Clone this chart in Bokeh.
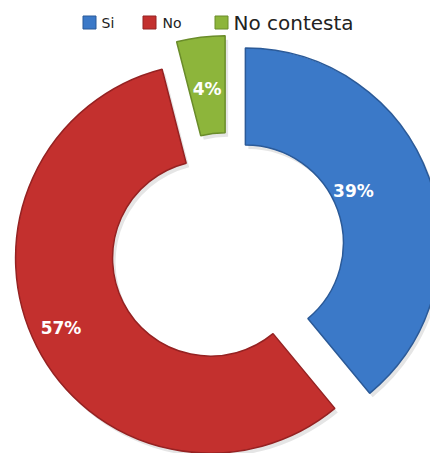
import math
from bokeh.plotting import figure
from bokeh.models import Range1d, ColumnDataSource
from bokeh.core.properties import value
from bokeh.embed import file_html
from bokeh.resources import INLINE

# ---- data ----
categories = ["Si", "No", "No contesta"]
values = [39, 57, 4]
labels = ["39%", "57%", "4%"]

# ---- style / layout ----
colors = ["#3b79c8", "#c3302e", "#8db53b"]
edge_colors = ["#2b5a98", "#952222", "#6a8c2a"]
W, H = 430, 453
base_cx, base_cy = 227, 204          # centre of the donut (data units = pixels)
r_in, r_out = 98, 195
explode = [19, 19, 19]
label_radius = [120, 165, 143]
label_shift_deg = [-6, 2, 0]

total = float(sum(values))
starts, ends, cxs, cys = [], [], [], []
lx, ly = [], []
acc = 0.0
for i, v in enumerate(values):
    t1 = acc / total * 2 * math.pi
    acc += v
    t2 = acc / total * 2 * math.pi
    tm = (t1 + t2) / 2
    cx = base_cx + explode[i] * math.sin(tm)
    cy = base_cy + explode[i] * math.cos(tm)
    cxs.append(cx)
    cys.append(cy)
    starts.append(math.pi / 2 - t2)
    ends.append(math.pi / 2 - t1)
    tl = tm + math.radians(label_shift_deg[i])
    lx.append(cx + label_radius[i] * math.sin(tl))
    ly.append(cy + label_radius[i] * math.cos(tl))

src = ColumnDataSource(dict(x=cxs, y=cys, start=starts, end=ends,
                            color=colors, edge=edge_colors, cat=categories,
                            lx=lx, ly=ly, label=labels))

p = figure(width=W, height=H, output_backend="svg", toolbar_location=None,
           x_range=Range1d(0, W), y_range=Range1d(0, H), min_border=0)
p.axis.visible = False
p.grid.visible = False
p.outline_line_color = None
p.background_fill_color = "white"
p.border_fill_color = "white"

# soft shadow
p.annular_wedge(x="x", y="y", inner_radius=r_in, outer_radius=r_out,
                start_angle="start", end_angle="end", direction="anticlock",
                source=ColumnDataSource(dict(x=[c + 3 for c in cxs], y=[c - 4 for c in cys],
                                             start=starts, end=ends)),
                fill_color="#000000", fill_alpha=0.10, line_color=None)

p.annular_wedge(x="x", y="y", inner_radius=r_in, outer_radius=r_out,
                start_angle="start", end_angle="end", direction="anticlock",
                source=src, fill_color="color", line_color="edge", line_width=1.5)

p.text(x="lx", y="ly", text="label", source=src, text_color="white",
       text_font=value("DejaVu Sans"), text_font_style="bold",
       text_font_size="17px", text_align="center", text_baseline="middle")

# legend (manual)
leg_y = H - 22
leg_sq_x = [89, 149, 221]
leg_tx_x = [101, 162, 233]
leg_sizes = ["14px", "14px", "20px"]
leg_styles = ["normal", "normal", "normal"]
p.rect(x=leg_sq_x, y=[leg_y] * 3, width=13, height=13, fill_color=colors,
       line_color=edge_colors, line_width=1)
for i in range(3):
    p.text(x=[leg_tx_x[i]], y=[leg_y], text=[categories[i]], text_color="#222222",
           text_font=value("DejaVu Sans"), text_font_style=leg_styles[i],
           text_font_size=leg_sizes[i], text_align="left", text_baseline="middle")

open("out.html", "w").write(file_html(p, INLINE))
